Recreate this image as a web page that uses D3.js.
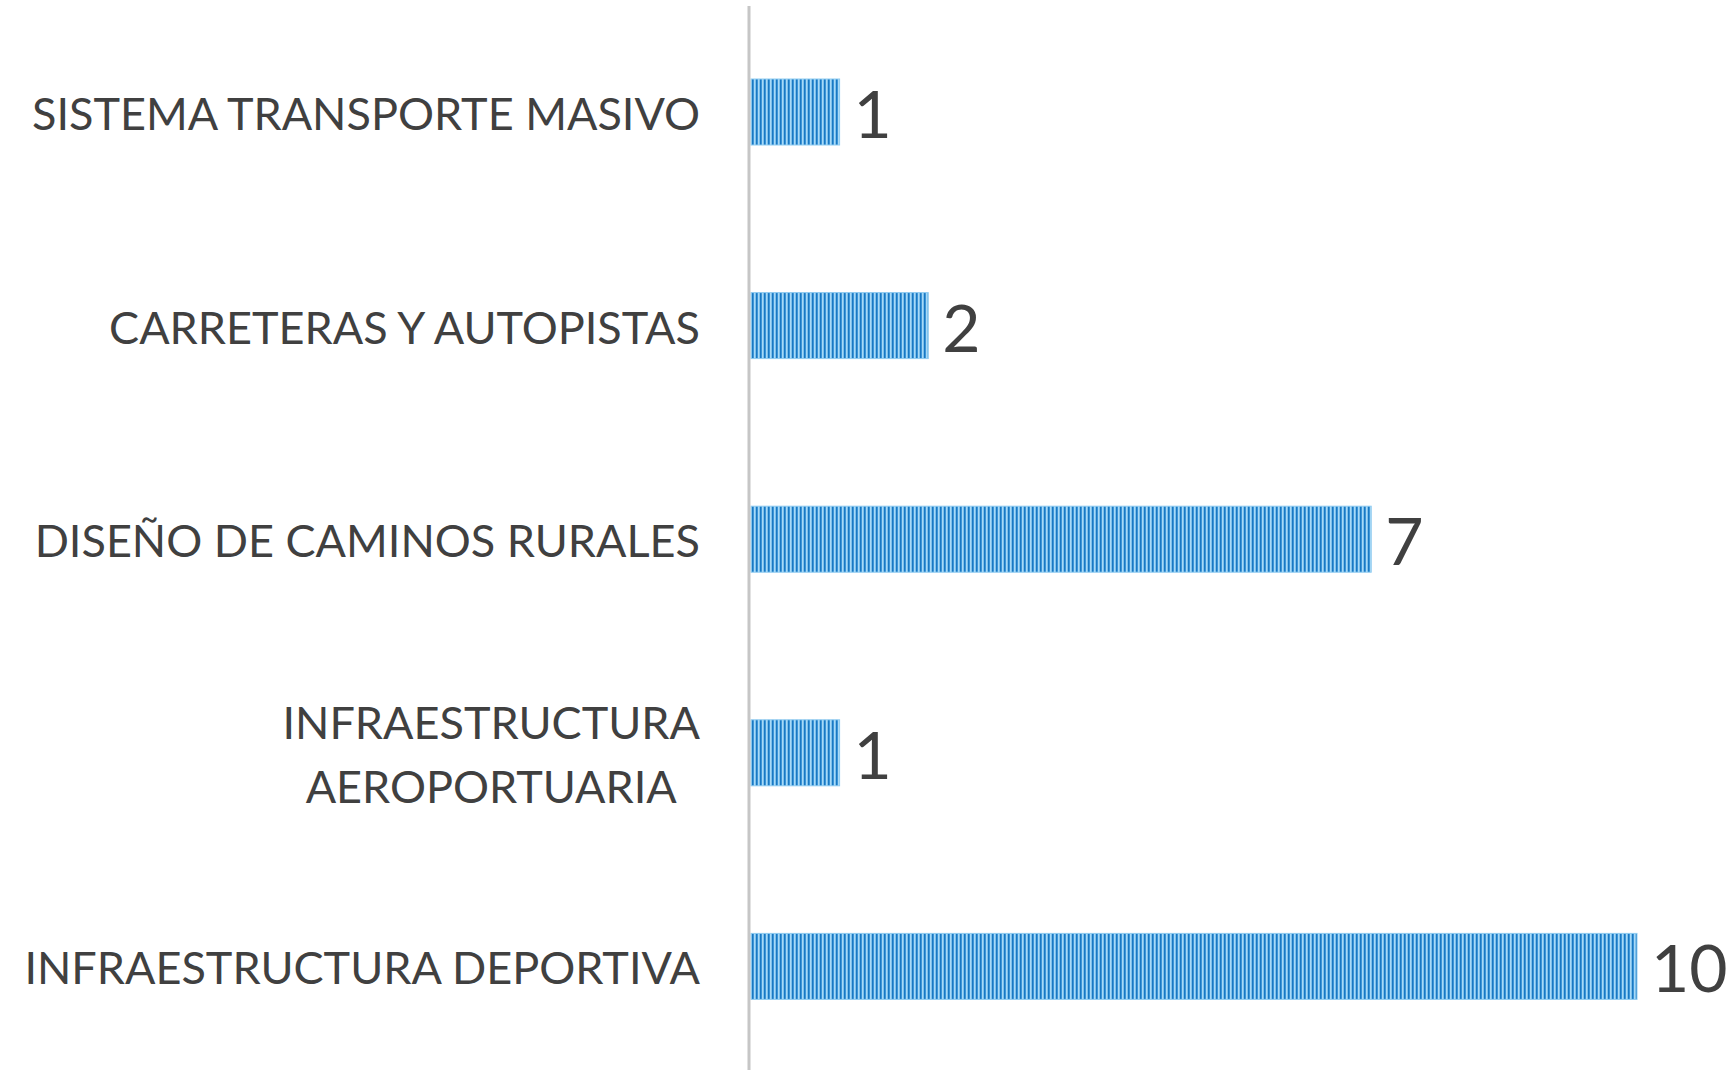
<!DOCTYPE html>
<html>
<head>
<meta charset="utf-8">
<script src="https://cdn.jsdelivr.net/npm/d3@7"></script>
<style>
  body { margin: 0; background: #fff; }
  text { font-family: Lato, "Open Sans", sans-serif; fill: #404040; }
</style>
</head>
<body>
<script>
var categories = [
    ["SISTEMA TRANSPORTE MASIVO"],
    ["CARRETERAS Y AUTOPISTAS"],
    ["DISEÑO DE CAMINOS RURALES"],
    ["INFRAESTRUCTURA", "AEROPORTUARIA"],
    ["INFRAESTRUCTURA DEPORTIVA"]
];
var values = [1, 2, 7, 1, 10];

function init(){
    var w = 1735;
    var h = 1070;
    var axisX = 749;
    var labelRight = 700;

    var svg = d3.select("body")
                .append("svg")
                .attr("width", w)
                .attr("height", h);

    // striped fill like the excel pattern
    var pat = svg.append("defs").append("pattern")
        .attr("id", "stripes")
        .attr("patternUnits", "userSpaceOnUse")
        .attr("width", 4)
        .attr("height", 10);
    pat.append("rect").attr("width", 4).attr("height", 10).attr("fill", "#a9d9f6");
    pat.append("rect").attr("x", 0).attr("width", 1).attr("height", 10).attr("fill", "#1a78c2");
    pat.append("rect").attr("x", 1).attr("width", 1).attr("height", 10).attr("fill", "#3d96d8");
    pat.append("rect").attr("x", 3).attr("width", 1).attr("height", 10).attr("fill", "#7cc0ec");

    var xScale = d3.scaleLinear()
                    .domain([0, 10])
                    .range([751, 1637]);
    var yScale = d3.scaleBand()
                    .domain(d3.range(values.length))
                    .range([5.2, 1073.2])
                    .paddingInner(0.691)
                    .paddingOuter(0.3455);

    svg.selectAll("rect.bar")
        .data(values)
        .enter()
        .append("rect")
        .attr("class", "bar")
        .attr("x", xScale(0))
        .attr("y", function(d, i){ return yScale(i); })
        .attr("width", function(d){ return xScale(d) - xScale(0); })
        .attr("height", yScale.bandwidth())
        .attr("fill", "url(#stripes)")
        .attr("stroke", "#8fcbf0")
        .attr("stroke-width", 1);

    svg.append("line")
        .attr("x1", axisX).attr("x2", axisX)
        .attr("y1", 6).attr("y2", h)
        .attr("stroke", "#c6c6c6")
        .attr("stroke-width", 3);

    svg.selectAll("text.val")
        .data(values)
        .enter()
        .append("text")
        .attr("class", "val")
        .attr("x", function(d){ return xScale(d) + 14; })
        .attr("y", function(d, i){ return yScale(i) + yScale.bandwidth() / 2 + 26; })
        .style("font-size", "66px")
        .text(function(d){ return d; });

    var lineGap = 64;
    var labels = svg.selectAll("text.cat")
        .data(categories)
        .enter()
        .append("text")
        .attr("class", "cat")
        .style("font-size", "45px")
        .attr("text-anchor", "middle");

    labels.each(function(lines, i){
        var t = d3.select(this);
        var mid = yScale(i) + yScale.bandwidth() / 2;
        var first = mid + 18 - (lines.length - 1) * lineGap / 2;
        lines.forEach(function(s, j){
            t.append("tspan").attr("y", first + j * lineGap).text(s);
        });
        var maxW = 0;
        t.selectAll("tspan").each(function(){
            maxW = Math.max(maxW, this.getComputedTextLength());
        });
        t.selectAll("tspan").attr("x", labelRight - maxW / 2);
    });
}
window.onload = init;
</script>
</body>
</html>
